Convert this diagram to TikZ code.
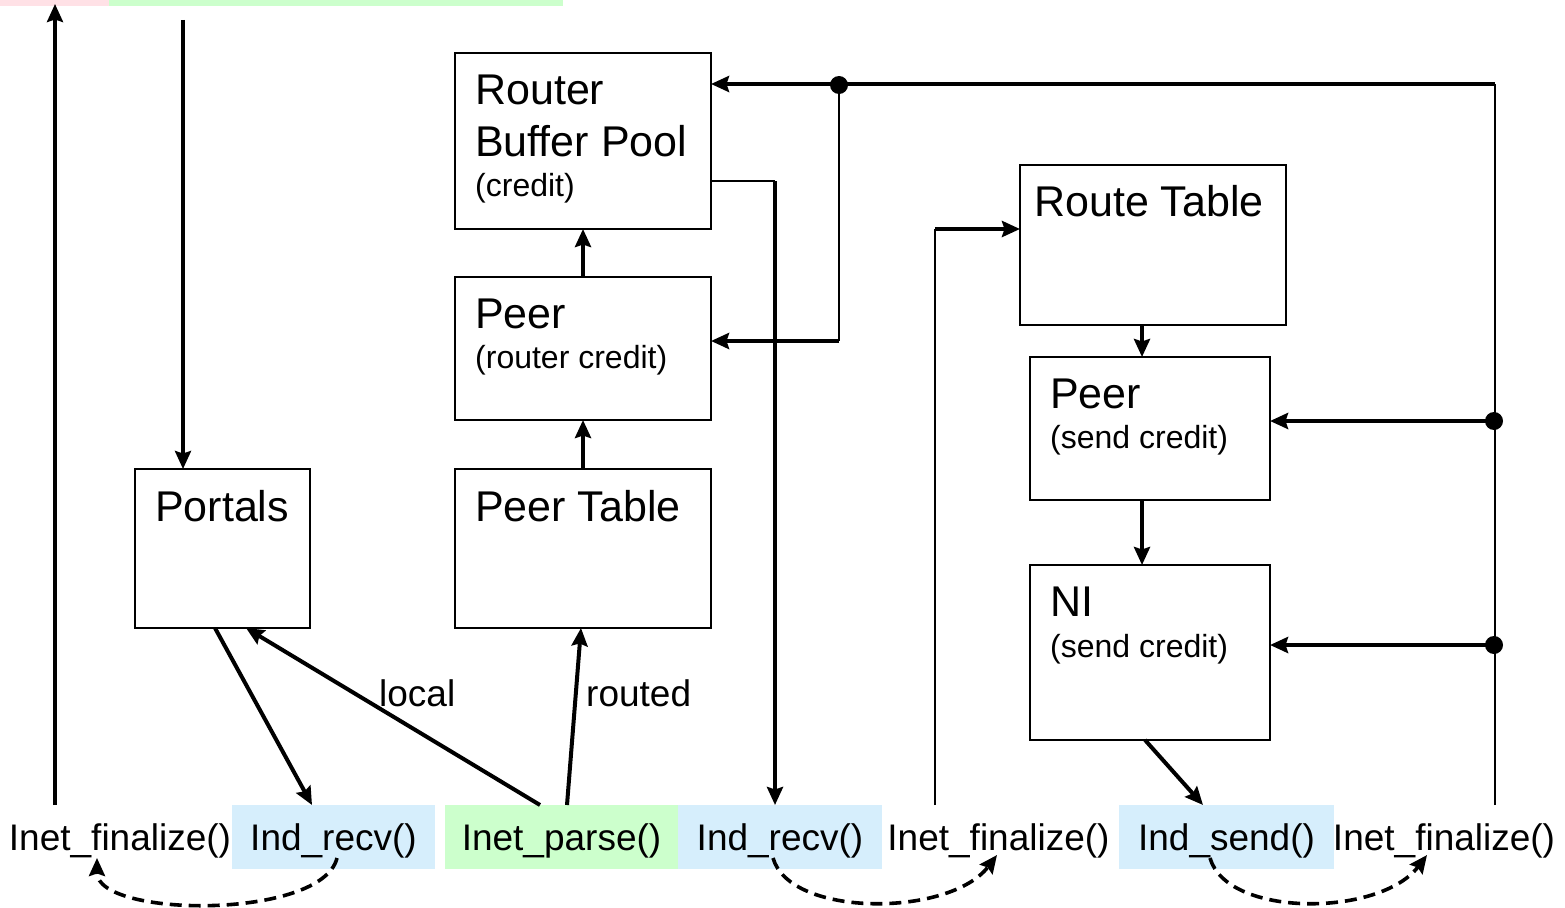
\documentclass[tikz,border=0pt]{standalone}
\usepackage{fontspec}
\setmainfont{Liberation Sans}
\usetikzlibrary{arrows.meta,calc}
\definecolor{callblue}{RGB}{214,238,252}
\definecolor{callgreen}{RGB}{204,255,204}
\definecolor{callpink}{RGB}{255,225,230}
\begin{document}
\begin{tikzpicture}[x=1pt,y=-1pt,
  box/.style={draw, line width=2.3pt, inner sep=0pt, outer sep=0pt},
  title/.style={anchor=base west, inner sep=0pt, font=\fontsize{43}{48}\selectfont},
  sub/.style={anchor=base west, inner sep=0pt, font=\fontsize{32}{38}\selectfont},
  fn/.style={inner sep=0pt, outer sep=0pt, text height=30pt, text depth=4pt,
    minimum height=64pt, font=\fontsize{37}{42}\selectfont},
  lbl/.style={anchor=base west, inner sep=0pt, font=\fontsize{37}{42}\selectfont},
  tip/.style={-{Stealth[length=18pt,width=16pt,inset=2.5pt]}},
  conn/.style={line width=4pt, tip},
  thin/.style={line width=2.5pt},
  dot/.style={circle, fill, minimum size=18pt, inner sep=0pt},
  flow/.style={line width=3.6pt, dash pattern=on 12pt off 7pt, tip}
]
\useasboundingbox (0,0) rectangle (1565,907);

% clipped bars at the top edge
\fill[callpink] (0,0) rectangle (109,6);
\fill[callgreen] (109,0) rectangle (563,6);

% call sequence along the bottom
\node[fn] (fnA) at (120,837) {Inet\_finalize()};
\node[fn, fill=callblue, minimum width=203pt] (recvA) at (333.5,837) {Ind\_recv()};
\node[fn, fill=callgreen, minimum width=233pt] (parse) at (561.5,837) {Inet\_parse()};
\node[fn, fill=callblue, minimum width=204pt] (recvB) at (780,837) {Ind\_recv()};
\node[fn] (fnB) at (998.5,837) {Inet\_finalize()};
\node[fn, fill=callblue, minimum width=215pt] (sendC) at (1226.5,837) {Ind\_send()};
\node[fn] (fnC) at (1444,837) {Inet\_finalize()};

% data structures
\node[box, minimum width=175pt, minimum height=159pt] (portals) at (222.5,548.5) {};
\node[title] at (155,521) {Portals};

\node[box, minimum width=256pt, minimum height=159pt] (pt) at (583,548.5) {};
\node[title] at (475,521) {Peer Table};

\node[box, minimum width=256pt, minimum height=143pt] (pr) at (583,348.5) {};
\node[title] at (475,328) {Peer};
\node[sub] at (475,368) {(router credit)};

\node[box, minimum width=256pt, minimum height=176pt] (rbp) at (583,141) {};
\node[title] at (475,104) {Router};
\node[title] at (475,156) {Buffer Pool};
\node[sub] at (475,196) {(credit)};

\node[box, minimum width=266pt, minimum height=160pt] (rt) at (1153,245) {};
\node[title] at (1034,216) {Route Table};

\node[box, minimum width=240pt, minimum height=143pt] (pse) at (1150,428.5) {};
\node[title] at (1050,408) {Peer};
\node[sub] at (1050,448) {(send credit)};

\node[box, minimum width=240pt, minimum height=175pt] (ni) at (1150,652.5) {};
\node[title] at (1050,616) {NI};
\node[sub] at (1050,657) {(send credit)};

% helper points for the routed connectors
\coordinate (topL) at (55,4);
\coordinate (topP) at (183,20);
\coordinate (bend181) at (775,181);
\coordinate (fbR) at (1495,84);
\coordinate (bend341) at (839,341);
\coordinate (bend229) at (935,229);
\node[dot] (j1) at (839,85) {};
\node[dot] (j2) at (1494,421) {};
\node[dot] (j3) at (1494,645) {};

% up and down the left edge
\draw[conn, line width=3.5pt] (topL |- fnA.north) -- (topL);
\draw[conn, line width=3.5pt] (topP) -- (topP |- portals.north);

% receive path
\draw[conn] ([xshift=-7.5pt]portals.south) -- ([xshift=-21.5pt]recvA.north);
\draw[conn] ([xshift=-21.5pt]parse.north) -- ([xshift=23.5pt]portals.south);
\draw[conn] ([xshift=5.5pt]parse.north) -- ([xshift=-2pt]pt.south);
\node[lbl] (local) at (379,706) {local};
\node[lbl] (routed) at (586,706) {routed};
\draw[conn] (pt.north) -- (pr.south);
\draw[conn] (pr.north) -- (rbp.south);
\draw[thin] (rbp.east |- bend181) -- (bend181);
\draw[conn] (bend181) -- (bend181 |- recvB.north);

% credit return from the last finalize
\draw[thin] (fnC.north -| fbR) -- (fbR);
\draw[conn] (fbR) -- (fbR -| rbp.east);
\draw[thin] (j1.center) -- (bend341);
\draw[conn] (bend341) -- (bend341 -| pr.east);
\draw[conn] (j2.center) -- (j2 -| pse.east);
\draw[conn] (j3.center) -- (j3 -| ni.east);

% send path
\draw[thin] (fnB.north -| bend229) -- (bend229);
\draw[conn] (bend229) -- (bend229 -| rt.west);
\draw[conn] ([xshift=-11pt]rt.south) -- ([xshift=-8pt]pse.north);
\draw[conn] ([xshift=-8pt]pse.south) -- ([xshift=-8pt]ni.north);
\draw[conn] ([xshift=-5pt]ni.south) -- ([xshift=-23.5pt]sendC.north);

% completion hand-offs
\draw[flow] ($(recvA.center)+(3.5,21)$) .. controls +(-15,62) and +(0,60) .. ($(fnA.center)+(-23,21)$);
\draw[flow] ($(recvB.center)+(-7,21)$) .. controls +(17,60) and +(-47,62) .. ($(fnB.center)+(-1.5,18)$);
\draw[flow] ($(sendC.center)+(-16.5,21)$) .. controls +(17,60) and +(-47,62) .. ($(fnC.center)+(-17,18)$);
\end{tikzpicture}
\end{document}
